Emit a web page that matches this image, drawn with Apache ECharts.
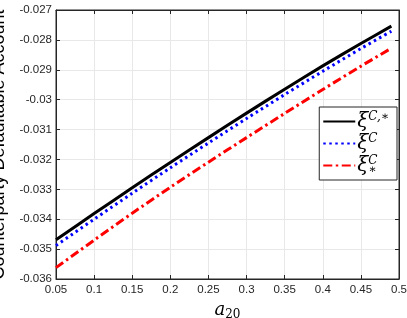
<!DOCTYPE html>
<html><head><meta charset="utf-8">
<script src="https://cdn.jsdelivr.net/npm/echarts@6/dist/echarts.min.js"></script>
<style>html,body{margin:0;padding:0;background:#fff}#c{width:407px;height:318px}</style>
</head><body><div id="c"></div>
<script>
var xs = [0.05, 0.1, 0.15, 0.2, 0.25, 0.3, 0.35, 0.4, 0.45, 0.49];
var xiCStar = [-0.03469, -0.03381, -0.03295, -0.03210, -0.03127, -0.03045, -0.02965, -0.02887, -0.02812, -0.02754];
var xiC = [-0.03488, -0.03400, -0.03313, -0.03228, -0.03145, -0.03063, -0.02983, -0.02905, -0.02829, -0.02771];
var xiStar = [-0.03562, -0.03470, -0.03380, -0.03293, -0.03209, -0.03127, -0.03046, -0.02966, -0.02888, -0.02828];
var seriesNames = ['xiCStar', 'xiC', 'xiStar'];
var labels = {
  xiCStar: '{x|ξ}{sup|C,∗}',
  xiC: '{x|ξ}{sup|C}',
  xiStar: '{x|ξ}{sup0|C}{sub|∗}'
};
function pairs(v){ return xs.map(function(x,i){ return [x, v[i]]; }); }
var axisCol = '#262626';
var chart = echarts.init(document.getElementById('c'), null, {renderer:'canvas'});
chart.setOption({
  animation:false,
  grid:{left:56, right:8, top:10, bottom:39, show:true, borderColor:axisCol, borderWidth:1, containLabel:false, outerBoundsMode:'none'},
  xAxis:[{
    type:'value', min:0.05, max:0.5, interval:0.05,
    name:'{a|a}{s|20}', nameLocation:'middle', nameGap:18,
    nameTextStyle:{rich:{
      a:{fontFamily:'DejaVu Serif', fontStyle:'italic', fontSize:18, color:'#000'},
      s:{fontFamily:'DejaVu Serif', fontSize:12, color:'#000', padding:[10,0,0,0]}
    }},
    axisLine:{show:true, lineStyle:{color:axisCol}},
    axisTick:{inside:true, length:4, lineStyle:{color:axisCol}},
    axisLabel:{color:axisCol, fontFamily:'Liberation Sans', fontSize:11.5, margin:5},
    splitLine:{show:true, lineStyle:{color:'#e8e8e8', width:1}}
  },{
    type:'value', position:'top', min:0.05, max:0.5, interval:0.05,
    axisLine:{show:true, lineStyle:{color:axisCol}},
    axisTick:{inside:true, length:4, lineStyle:{color:axisCol}},
    axisLabel:{show:false}, splitLine:{show:false}
  }],
  yAxis:[{
    type:'value', min:-0.036, max:-0.027, interval:0.001,
    name:'Counterparty Defaultable Account', nameLocation:'middle', nameGap:38,
    nameTextStyle:{fontFamily:'Liberation Sans', fontSize:18, color:'#000'},
    axisLine:{show:true, lineStyle:{color:axisCol}},
    axisTick:{inside:true, length:4, lineStyle:{color:axisCol}},
    axisLabel:{color:axisCol, fontFamily:'Liberation Sans', fontSize:11.5, margin:4},
    splitLine:{show:true, lineStyle:{color:'#e8e8e8', width:1}}
  },{
    type:'value', position:'right', min:-0.036, max:-0.027, interval:0.001,
    axisLine:{show:true, lineStyle:{color:axisCol}},
    axisTick:{inside:true, length:4, lineStyle:{color:axisCol}},
    axisLabel:{show:false}, splitLine:{show:false}
  }],
  legend:{
    orient:'vertical', right:10, top:107,
    data:seriesNames,
    itemWidth:32, itemHeight:16, itemGap:1.5,
    padding:[4,8,4,3],
    borderColor:'#262626', borderWidth:1, backgroundColor:'#fff',
    itemStyle:{opacity:0},
    formatter:function(n){ return labels[n]; },
    textStyle:{
      padding:[0,0,0,-3],
      rich:{
        x:{fontFamily:'DejaVu Serif', fontStyle:'italic', fontSize:20, color:'#000'},
        sup:{fontFamily:'DejaVu Serif', fontStyle:'italic', fontSize:12, color:'#000', verticalAlign:'top', padding:[0,0,9,0]},
        sup0:{fontFamily:'DejaVu Serif', fontStyle:'italic', fontSize:12, color:'#000', width:0, verticalAlign:'top', padding:[0,0,9,0]},
        sub:{fontFamily:'DejaVu Serif', fontSize:12, color:'#000', verticalAlign:'bottom', padding:[8,0,0,0]}
      }
    }
  },
  series:[
    {name:'xiCStar', type:'line', data:pairs(xiCStar), smooth:0.3, symbol:'none', lineStyle:{color:'#000', width:3}, itemStyle:{color:'#000'}},
    {name:'xiC', type:'line', data:pairs(xiC), smooth:0.3, symbol:'none', lineStyle:{color:'#0000ff', width:3, type:[2.5,3.5]}, itemStyle:{color:'#0000ff'}},
    {name:'xiStar', type:'line', data:pairs(xiStar), smooth:0.3, symbol:'none', lineStyle:{color:'#ff0000', width:3, type:[9,3.5,2.5,3.5]}, itemStyle:{color:'#ff0000'}}
  ]
});
</script></body></html>
